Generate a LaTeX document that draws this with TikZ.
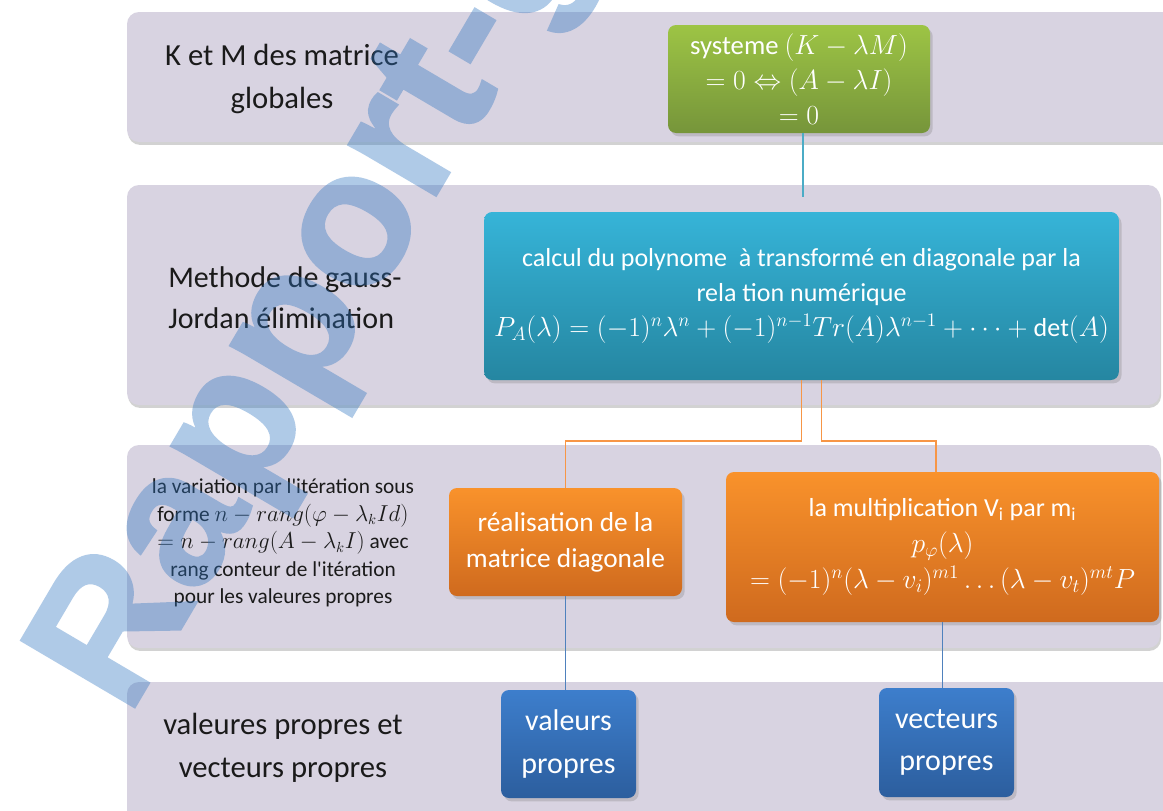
\documentclass[tikz,border=0pt]{standalone}
\usepackage{fontspec}
\setmainfont{Carlito}
\newfontfamily\wmfont{Liberation Sans}[BoldFeatures={FakeBold=1.5}]
\usetikzlibrary{shadows,calc}
\definecolor{band}{HTML}{D8D3E1}
\definecolor{grtop}{HTML}{9DC445}
\definecolor{grbot}{HTML}{76953A}
\definecolor{cytop}{HTML}{36B4D8}
\definecolor{cybot}{HTML}{2586A1}
\definecolor{ortop}{HTML}{F9922B}
\definecolor{orbot}{HTML}{CF6A1E}
\definecolor{bltop}{HTML}{3D7ECC}
\definecolor{blbot}{HTML}{2C5E9E}
\definecolor{cyline}{HTML}{4BACC6}
\definecolor{orline}{HTML}{F79646}
\definecolor{blline}{HTML}{4F81BD}
\definecolor{wm}{HTML}{2F75C0}
\definecolor{labtext}{HTML}{1A1A1A}
\begin{document}
\begin{tikzpicture}[x=0.75pt,y=-0.75pt,
  bandbox/.style={fill=band, rounded corners=9pt,
    drop shadow={shadow xshift=0.8pt,shadow yshift=-2.2pt,opacity=.35}},
  nodebox/.style={rounded corners=6pt, inner sep=0pt, align=center, text=white,
    drop shadow={shadow xshift=2pt,shadow yshift=-2.5pt,opacity=.3}},
  greenbox/.style={nodebox, top color=grtop, bottom color=grbot},
  cyanbox/.style={nodebox, top color=cytop, bottom color=cybot},
  orangebox/.style={nodebox, top color=ortop, bottom color=orbot},
  bluebox/.style={nodebox, top color=bltop, bottom color=blbot},
  lab/.style={align=center, inner sep=0pt, text=labtext},
  cyconn/.style={draw=cyline, line width=1.3pt},
  orconn/.style={draw=orline, line width=1.3pt},
  blconn/.style={draw=blline, line width=1.3pt}
]
\useasboundingbox (0,0) rectangle (1163,810);
\fill[white] (0,0) rectangle (1163,810);

% bands
\fill[bandbox] (127,12) rectangle (1180,142);
\fill[bandbox] (127,185) rectangle (1160,405);
\fill[bandbox] (127,445) rectangle (1160,648);
\fill[bandbox] (127,682) rectangle (1180,830);

% nodes
\node[greenbox, minimum width=196.5pt, minimum height=81pt,
  font=\fontsize{20}{26}\selectfont] (green) at (799,79)
  {systeme $(K-\lambda M)$\\$=0\Leftrightarrow(A-\lambda I)$\\$=0$};
\node[cyanbox, minimum width=476pt, minimum height=126pt,
  font=\fontsize{19.5}{26}\selectfont] (cyan) at (801.5,296)
  {calcul du polynome\ \ à transformé en diagonale par la\\rela tion numérique\\$P_A(\lambda)=(-1)^n\lambda^n+(-1)^{n-1}Tr(A)\lambda^{n-1}+\cdots+\det(A)$};
\node[orangebox, minimum width=174.75pt, minimum height=81pt,
  font=\fontsize{20.5}{27}\selectfont] (orange1) at (565.5,542)
  {réalisation de la\\matrice diagonale};
\node[orangebox, minimum width=324.75pt, minimum height=112.5pt,
  font=\fontsize{19.5}{27}\selectfont] (orange2) at (942.5,547)
  {la multiplication V\textsubscript{i} par m\textsubscript{i}\\$p_\varphi(\lambda)$\\$=(-1)^n(\lambda-v_i)^{m1}\ldots(\lambda-v_t)^{mt}P$};
\node[bluebox, minimum width=101.25pt, minimum height=81pt,
  font=\fontsize{22.5}{32}\selectfont] (blue1) at (568.5,744)
  {valeurs\\propres};
\node[bluebox, minimum width=101.25pt, minimum height=81.75pt,
  font=\fontsize{22.5}{32}\selectfont] (blue2) at (946.5,742.5)
  {vecteurs\\propres};

% connectors
\draw[cyconn, shorten >=11pt] ([xshift=3pt]green.south) -- ([xshift=3pt]green.south |- cyan.north);
\draw[orconn] (cyan.south) -- ++(0,61) -| (orange1.north);
\draw[orconn] ([xshift=15pt]cyan.south) -- ++(0,61) -| ([xshift=-5pt]orange2.north);
\draw[blconn] (orange1.south) -- (orange1.south |- blue1.north);
\draw[blconn] (orange2.south) -- (orange2.south |- blue2.north);

% left labels
\node[lab, font=\fontsize{23}{32}\selectfont] (l1) at (282,79)
  {K et M des matrice\\globales};
\node[lab, align=left, anchor=west, font=\fontsize{22.5}{31}\selectfont] (l2) at (168,298)
  {Methode de gauss-\\Jordan élimination};
\node[lab, font=\fontsize{16}{20.6}\selectfont] (l3) at (283,543)
  {la variation par l\textquotesingle itération sous\\forme $n-rang(\varphi-\lambda_k Id)$\\$=n-rang(A-\lambda_k I)$ avec\\rang conteur de l\textquotesingle itération\\pour les valeures propres};
\node[lab, font=\fontsize{23}{32}\selectfont] (l4) at (283,748)
  {valeures propres et\\vecteurs propres};

% watermark
\begin{scope}
\clip (0,0) rectangle (1163,810);
\begin{scope}[transparency group, opacity=.38]
\node[rotate=59.5, anchor=base west, inner sep=0pt, text=wm,
  font=\wmfont\bfseries\fontsize{143}{143}\selectfont] (wmark) at (128,718) {Rapport-gratuit};
\end{scope}
\end{scope}
\end{tikzpicture}
\end{document}
